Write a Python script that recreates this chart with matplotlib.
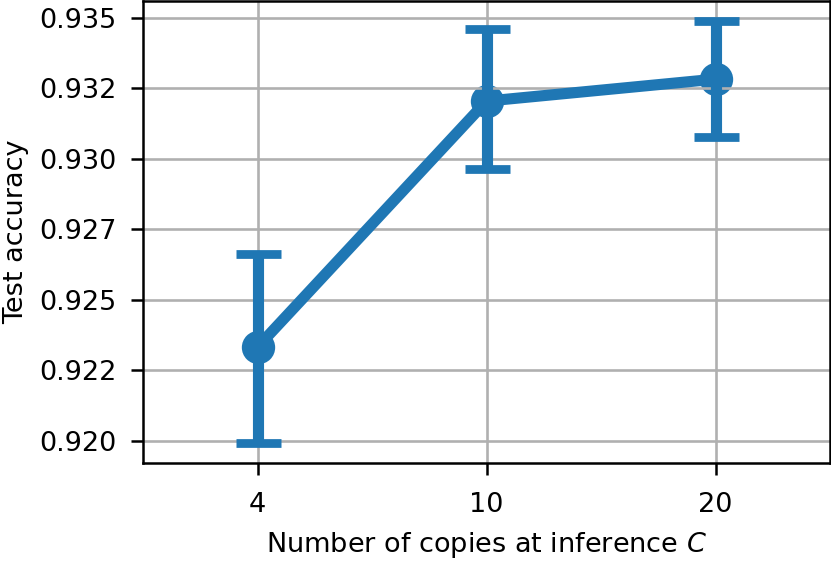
import matplotlib
matplotlib.use("Agg")
import matplotlib.pyplot as plt
import numpy as np

categories = ["4", "10", "20"]
mean_acc = [0.92333, 0.93205, 0.93283]
upper_acc = [0.92662, 0.93462, 0.93489]
lower_acc = [0.91992, 0.92966, 0.93078]
ytick_values = [0.9200, 0.9225, 0.9250, 0.9275, 0.9300, 0.9325, 0.9350]
ytick_labels = ["0.920", "0.922", "0.925", "0.927", "0.930", "0.932", "0.935"]

color = "#1f77b4"

fig = plt.figure(figsize=(8.31, 5.62), dpi=100)
ax = fig.add_axes([143 / 831, 99 / 562, 687 / 831, 462 / 562])

x = np.arange(len(categories))
mean = np.array(mean_acc)
lo = mean - np.array(lower_acc)
hi = np.array(upper_acc) - mean

ax.scatter(x, mean, s=24 ** 2, color=color, linewidths=0, zorder=1)
ax.plot(x, mean, lw=8, color=color, zorder=2, solid_capstyle="butt")
ax.errorbar(x, mean, yerr=[lo, hi], fmt="none", ecolor=color,
            elinewidth=8, capsize=16.2, capthick=6.3, zorder=2)

ax.set_xlim(-0.5, len(categories) - 0.5)
ax.set_ylim(0.91922, 0.93560)
ax.set_xticks(x)
ax.set_xticklabels(categories)
ax.set_yticks(ytick_values)
ax.set_yticklabels(ytick_labels)

ax.grid(True, color="#b0b0b0", lw=1.9)
ax.set_axisbelow("line")

for s in ax.spines.values():
    s.set_linewidth(1.8)

ax.tick_params(axis="both", labelsize=19.5, length=8.6, width=1.8)
ax.tick_params(axis="y", pad=10.5)
ax.tick_params(axis="x", pad=12)

ax.set_xlabel("Number of copies at inference $C$", fontsize=19.5, labelpad=9)
ax.set_ylabel("Test accuracy", fontsize=19.5, labelpad=7)

fig.savefig("out.png", dpi=100)
